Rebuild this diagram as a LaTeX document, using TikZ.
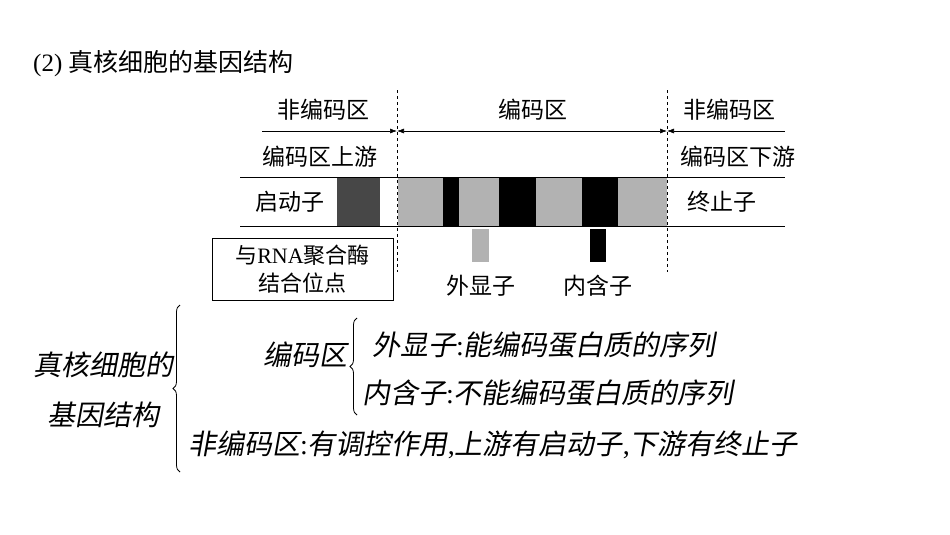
\documentclass[tikz,border=0pt]{standalone}
\usepackage{fontspec}
\setmainfont{Liberation Serif}
\newfontfamily\cjk{Noto Sans CJK SC}
\newfontfamily\cjksl[FakeSlant=0.18]{Noto Sans CJK SC}
\usetikzlibrary{decorations.pathreplacing,arrows.meta}
\begin{document}
\begin{tikzpicture}[x=1pt,y=-1pt,
  lab/.style={font=\fontsize{23}{25}\selectfont\cjk,inner sep=0pt},
  big/.style={font=\fontsize{28}{32}\selectfont\cjksl,inner sep=0pt},
  dl/.style={dashed,line width=0.5pt},
  br/.style={decorate,decoration={brace,amplitude=7pt},line width=0.8pt}]
\useasboundingbox (0,0) rectangle (950,535);
\node[anchor=west,inner sep=0pt,font=\fontsize{25}{28}\selectfont] (title) at (33,64) {(2) {\cjk 真核细胞的基因结构}};
% band
\fill[black!72] (337,177) rectangle (380,226);
\fill[gray!60] (398,177) rectangle (443,226);
\fill[black] (443,177) rectangle (459,226);
\fill[gray!60] (459,177) rectangle (499,226);
\fill[black] (499,177) rectangle (536,226);
\fill[gray!60] (536,177) rectangle (582,226);
\fill[black] (582,177) rectangle (618,226);
\fill[gray!60] (618,177) rectangle (667,226);
\draw[line width=0.6pt] (240,177) -- (785,177);
\draw[line width=0.6pt] (240,226) -- (785,226);
\fill[gray!60] (472,229) rectangle (489,262);
\fill[black] (590,229) rectangle (606,262);
% dashed
\coordinate (d1t) at (397,90); \coordinate (d1b) at (397,272);
\coordinate (d2t) at (667,90); \coordinate (d2b) at (667,272);
\draw[dl] (d1t) -- (d1b);
\draw[dl] (d2t) -- (d2b);
% arrows
\coordinate (a0) at (262,131); \coordinate (a1) at (397,131); \coordinate (a2) at (667,131); \coordinate (a3) at (785,131);
\draw[-{Latex[length=7pt,width=5pt]},line width=0.6pt] (a0) -- (a1);
\draw[{Latex[length=7pt,width=5pt]}-{Latex[length=7pt,width=5pt]},line width=0.6pt] (a1) -- (a2);
\draw[{Latex[length=7pt,width=5pt]}-,line width=0.6pt] (a2) -- (a3);
% labels
\node[lab] (n1) at (323,110) {非编码区};
\node[lab] (n2) at (533,110) {编码区};
\node[lab] (n3) at (729,110) {非编码区};
\node[lab] (n4) at (320,157) {编码区上游};
\node[lab] (n5) at (738,157) {编码区下游};
\node[lab] (n6) at (290,202) {启动子};
\node[lab] (n7) at (722,202) {终止子};
\node[lab] (n8) at (481,286) {外显子};
\node[lab] (n9) at (598,286) {内含子};
\node[draw,line width=0.6pt,minimum width=181pt,minimum height=62pt,align=center,font=\fontsize{22}{28}\selectfont,inner sep=0pt] (box) at (302.5,269) {{\cjk 与}RNA{\cjk 聚合酶}\\{\cjk 结合位点}};
% bottom
\node[big] (g1) at (103,365) {真核细胞的};
\node[big] (g2) at (103,415) {基因结构};
\draw[br] (180,472) -- (180,305);
\node[big] (c) at (305,355) {编码区};
\draw[br] (357,415) -- (357,318);
\node[big,anchor=west] (e) at (372,345) {外显子{\fontspec{Liberation Serif}:}能编码蛋白质的序列};
\node[big,anchor=west] (i) at (362,393) {内含子{\fontspec{Liberation Serif}:}不能编码蛋白质的序列};
\node[big,anchor=west] (nc) at (188,445) {非编码区{\fontspec{Liberation Serif}:}有调控作用{\fontspec{Liberation Serif},}上游有启动子{\fontspec{Liberation Serif},}下游有终止子};
\end{tikzpicture}
\end{document}
